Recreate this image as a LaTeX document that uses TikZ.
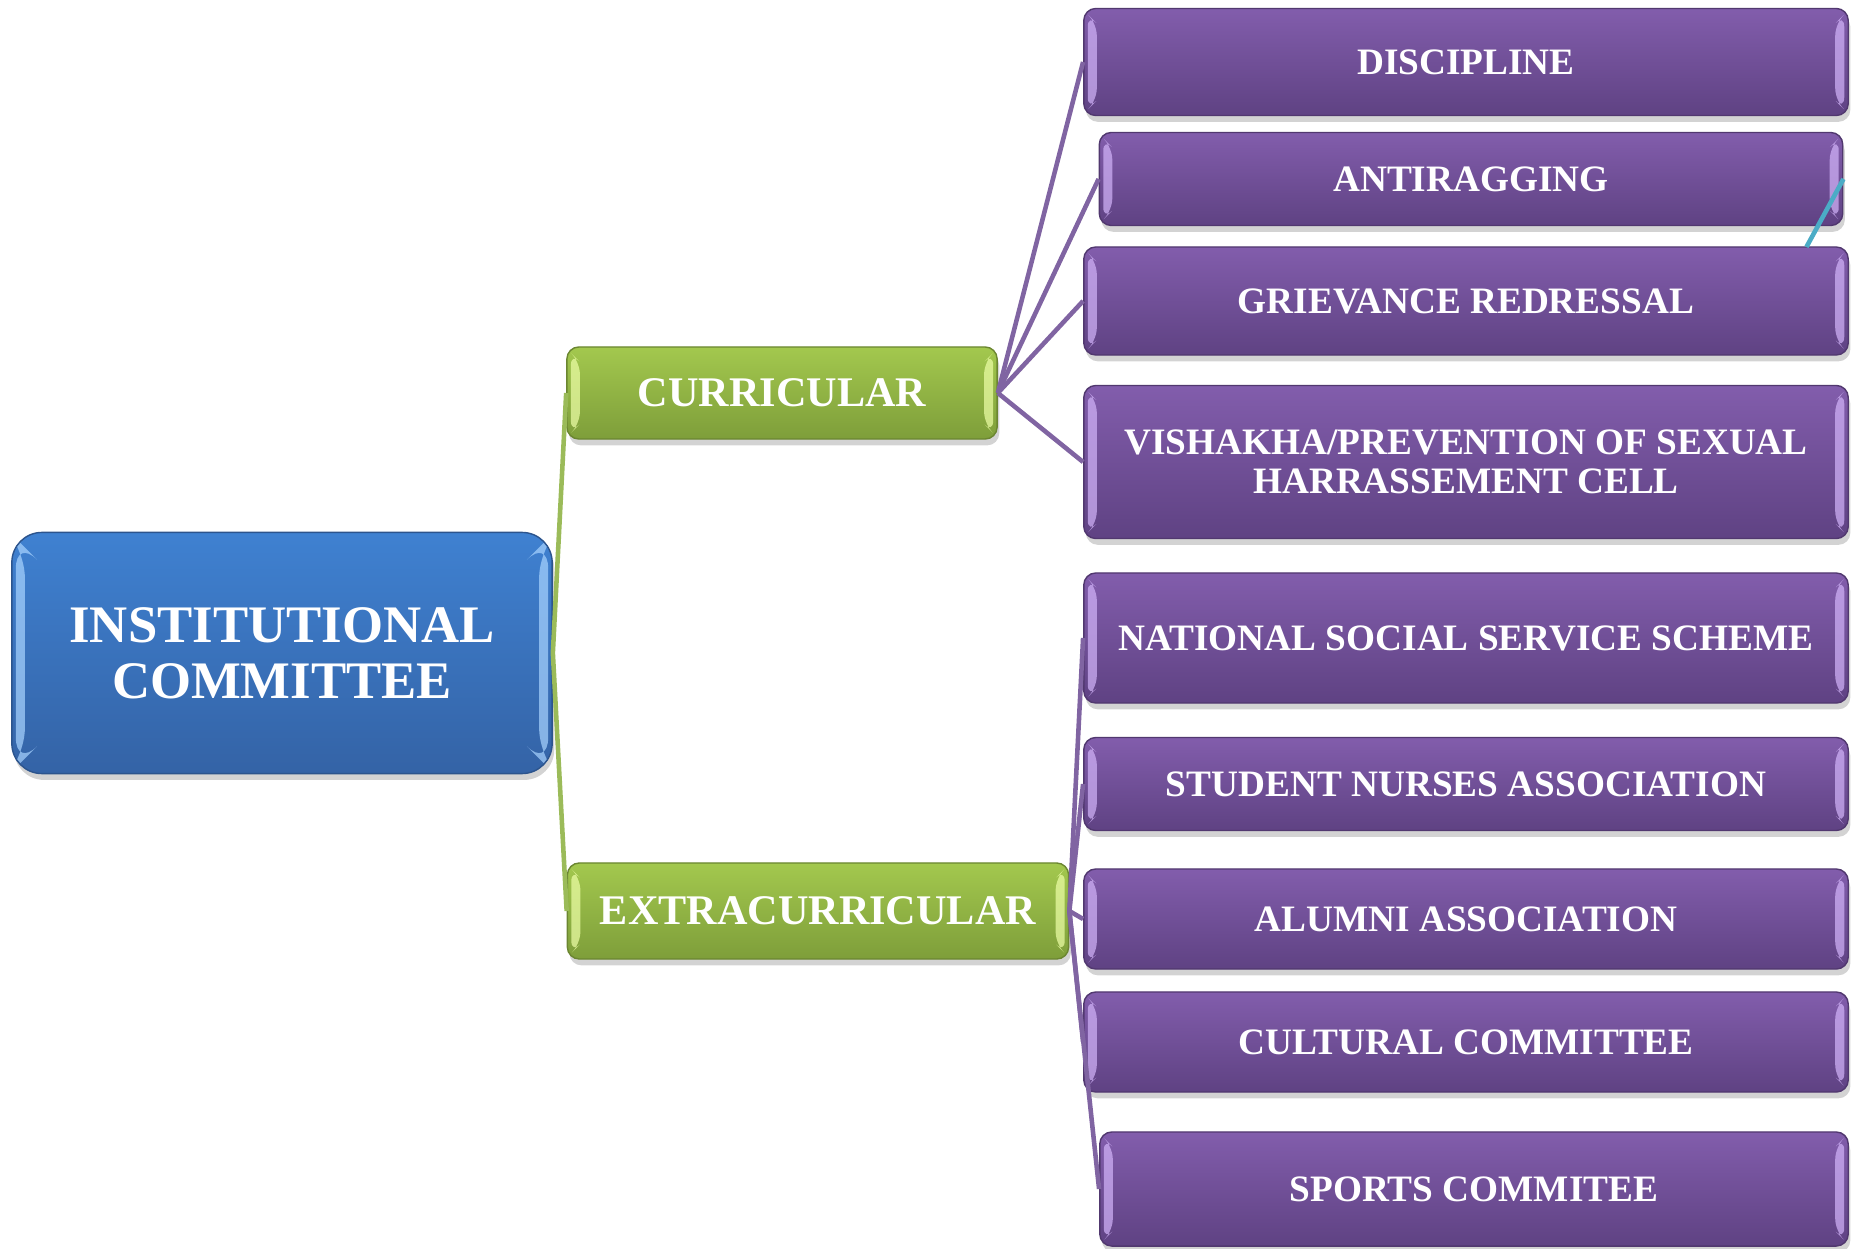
\documentclass[tikz,border=0pt]{standalone}
\usepackage{fontspec}
\setmainfont{Liberation Serif}
\usetikzlibrary{shadows}

\definecolor{rootblue}{HTML}{3F81D1}
\definecolor{rootdark}{HTML}{3463A6}
\definecolor{rootlight}{HTML}{A9D4FF}
\definecolor{leafgreen}{HTML}{A3C84E}
\definecolor{leafdark}{HTML}{7E9E3A}
\definecolor{leaflight}{HTML}{EEFFA8}
\definecolor{cellpurple}{HTML}{825DAC}
\definecolor{celldark}{HTML}{5F4283}
\definecolor{celllight}{HTML}{D3B5FA}
\definecolor{linkpurple}{HTML}{8064A2}
\definecolor{linkgreen}{HTML}{9BBB59}
\definecolor{linkteal}{HTML}{4BACC6}

\tikzset{
  bevel/.style={path picture={
    \fill[#1,opacity=0.7] ([shift={(0.04cm,0.06cm)}]path picture bounding box.south west)
      -- ([shift={(0.04cm,-0.06cm)}]path picture bounding box.north west)
      -- ([shift={(0.13cm,-0.15cm)}]path picture bounding box.north west)
      -- ([shift={(0.13cm,0.15cm)}]path picture bounding box.south west) -- cycle;
    \fill[#1,opacity=0.7] ([shift={(-0.04cm,0.06cm)}]path picture bounding box.south east)
      -- ([shift={(-0.04cm,-0.06cm)}]path picture bounding box.north east)
      -- ([shift={(-0.13cm,-0.15cm)}]path picture bounding box.north east)
      -- ([shift={(-0.13cm,0.15cm)}]path picture bounding box.south east) -- cycle;
  }},
  box/.style={rounded corners=0.12cm, text=white, align=center, inner sep=0pt,
    line width=0.4pt,
    drop shadow={shadow xshift=0.6pt, shadow yshift=-1.8pt, opacity=0.35}},
  rootbox/.style={box, rounded corners=0.3cm, top color=rootblue, bottom color=rootdark,
    draw=rootdark!85!black, bevel=rootlight,
    font=\bfseries\fontsize{15}{16}\selectfont},
  groupbox/.style={box, top color=leafgreen, bottom color=leafdark,
    draw=leafdark!85!black, bevel=leaflight,
    font=\bfseries\fontsize{12}{13}\selectfont},
  cellbox/.style={box, top color=cellpurple, bottom color=celldark,
    draw=celldark!85!black, bevel=celllight,
    font=\bfseries\fontsize{10.6}{11}\selectfont},
  purplelink/.style={draw=linkpurple, line width=1.3pt},
  greenlink/.style={draw=linkgreen, line width=1.3pt},
}

\begin{document}
\begin{tikzpicture}[x=0.01cm, y=-0.01cm]
\useasboundingbox (0,0) rectangle (1861,1249);

% main committee
\node[rootbox, minimum width=5.4cm, minimum height=2.41cm] (inst) at (282,653) {INSTITUTIONAL\\COMMITTEE};

% two groups
\node[groupbox, minimum width=4.3cm, minimum height=0.92cm] (curr) at (782,393) {CURRICULAR};
\node[groupbox, minimum width=5.01cm, minimum height=0.96cm] (extra) at (818,911) {EXTRACURRICULAR};

% curricular cells
\node[cellbox, minimum width=7.64cm, minimum height=1.07cm] (disc) at (1466,62) {DISCIPLINE};
\node[cellbox, minimum width=7.43cm, minimum height=0.93cm] (anti) at (1471,179) {ANTIRAGGING};
\node[cellbox, minimum width=7.64cm, minimum height=1.08cm] (griev) at (1466,301) {GRIEVANCE REDRESSAL};
\node[cellbox, minimum width=7.64cm, minimum height=1.53cm] (vish) at (1466,462) {VISHAKHA/PREVENTION OF SEXUAL\\HARRASSEMENT CELL};

% extracurricular cells
\node[cellbox, minimum width=7.64cm, minimum height=1.30cm] (nss) at (1466,638) {NATIONAL SOCIAL SERVICE SCHEME};
\node[cellbox, minimum width=7.64cm, minimum height=0.93cm] (nurse) at (1466,784) {STUDENT NURSES ASSOCIATION};
\node[cellbox, minimum width=7.64cm, minimum height=1.00cm] (alum) at (1466,919) {ALUMNI ASSOCIATION};
\node[cellbox, minimum width=7.64cm, minimum height=1.00cm] (cult) at (1466,1042) {CULTURAL COMMITTEE};
\node[cellbox, minimum width=7.48cm, minimum height=1.14cm] (sport) at (1474,1189) {SPORTS COMMITEE};

% links
\draw[greenlink] (inst.east) -- (curr.west);
\draw[greenlink] (inst.east) -- (extra.west);
\foreach \cell in {disc,anti,griev,vish}
  \draw[purplelink] (curr.east) -- (\cell.west);
\foreach \cell in {nss,nurse,alum,cult,sport}
  \draw[purplelink] (extra.east) -- (\cell.west);
\draw[draw=linkteal, line width=1.3pt] (anti.east) -- ++(-37,68);
\end{tikzpicture}
\end{document}
